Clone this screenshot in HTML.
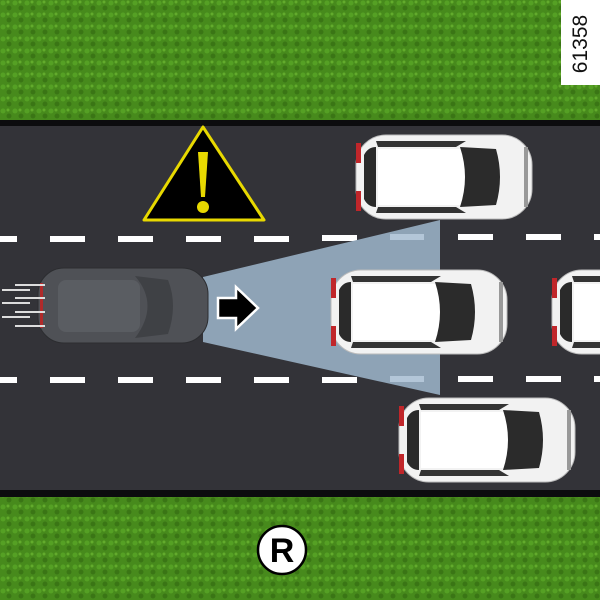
<!DOCTYPE html>
<html><head><style>
html,body{margin:0;padding:0;width:600px;height:600px;overflow:hidden;background:#4a8a1e}
</style></head><body>
<svg width="600" height="600" viewBox="0 0 600 600" xmlns="http://www.w3.org/2000/svg" font-family="Liberation Sans, sans-serif">
<defs>
<pattern id="g" width="12" height="12" patternUnits="userSpaceOnUse">
<rect width="12" height="12" fill="#478a1c"/>
<circle cx="3" cy="3" r="2.5" fill="#55a024"/>
<circle cx="9" cy="8" r="2.5" fill="#3a7515"/>
<circle cx="8" cy="2" r="1.5" fill="#62ab2c"/>
</pattern>
<g id="wcar">
<rect x="0" y="0" width="176" height="84" rx="30" fill="#f2f2f2" stroke="#bbb"/>
<rect x="0" y="8" width="5" height="20" fill="#c0262a"/>
<rect x="0" y="56" width="5" height="20" fill="#c0262a"/>
<path d="M8 20 Q12 12 20 12 L20 72 Q12 72 8 64 Z" fill="#2a2a2a"/>
<rect x="22" y="14" width="100" height="56" fill="#fff"/>
<path d="M104 12 L140 14 Q148 42 140 70 L104 72 Q114 42 104 12Z" fill="#2b2b2b"/>
<path d="M20 6 L110 6 L100 12 L22 12Z" fill="#333"/>
<path d="M20 78 L110 78 L100 72 L22 72Z" fill="#333"/>
<rect x="168" y="12" width="4" height="60" fill="#999"/>
</g>
</defs>
<rect width="600" height="600" fill="url(#g)"/>
<rect x="0" y="120" width="600" height="377" fill="#0c0c0e"/>
<rect x="0" y="126" width="600" height="364" fill="#333338"/>
<g fill="#fff">
<rect x="0" y="236" width="17" height="6"/><rect x="50" y="236" width="35" height="6"/><rect x="118" y="236" width="35" height="6"/><rect x="186" y="236" width="35" height="6"/><rect x="254" y="236" width="35" height="6"/><rect x="322" y="235" width="35" height="6"/><rect x="458" y="234" width="35" height="6"/><rect x="526" y="234" width="35" height="6"/><rect x="594" y="234" width="6" height="6"/>
<rect x="0" y="377" width="17" height="6"/><rect x="50" y="377" width="35" height="6"/><rect x="118" y="377" width="35" height="6"/><rect x="186" y="377" width="35" height="6"/><rect x="254" y="377" width="35" height="6"/><rect x="322" y="377" width="35" height="6"/><rect x="458" y="376" width="35" height="6"/><rect x="526" y="376" width="35" height="6"/><rect x="594" y="376" width="6" height="6"/>
</g>
<polygon points="203,277 440,220 440,395 203,342" fill="#8ea3b6"/>
<rect x="390" y="234" width="34" height="6" fill="#b3c6d8"/>
<rect x="390" y="376" width="34" height="6" fill="#b3c6d8"/>
<use href="#wcar" x="356" y="135"/>
<use href="#wcar" x="331" y="270"/>
<use href="#wcar" x="552" y="270"/>
<use href="#wcar" x="399" y="398"/>
<rect x="38" y="268" width="170" height="75" rx="26" fill="#4f5156" stroke="#2c2d30"/>
<rect x="58" y="280" width="82" height="52" rx="8" fill="#5a5d62"/>
<path d="M135 276 Q160 305 135 338 L168 334 Q178 305 168 280Z" fill="#3f4145"/>
<rect x="40" y="283" width="3" height="45" fill="#b02a2a"/>
<g stroke="#ddd" stroke-width="2" fill="none">
<line x1="2" y1="290" x2="30" y2="290"/><line x1="15" y1="285" x2="45" y2="285"/><line x1="2" y1="303" x2="30" y2="303"/><line x1="15" y1="298" x2="45" y2="298"/><line x1="2" y1="317" x2="30" y2="317"/><line x1="15" y1="312" x2="45" y2="312"/><line x1="15" y1="326" x2="45" y2="326"/>
</g>
<polygon points="218,298 236,298 236,287 258,308 236,329 236,318 218,318" fill="#000" stroke="#fff" stroke-width="2.5"/>
<path d="M203 127 L264 220 L144 220 Z" fill="#000" stroke="#e8d900" stroke-width="3" stroke-linejoin="round"/>
<path d="M198 152 L208 152 L205 197 L201 197Z" fill="#e8d900"/>
<circle cx="203" cy="207" r="6" fill="#e8d900"/>
<circle cx="282" cy="550" r="24" fill="#fff" stroke="#000" stroke-width="2.5"/>
<text x="282" y="562" font-size="34" font-weight="bold" text-anchor="middle">R</text>
<rect x="561" y="0" width="39" height="85" fill="#fff"/>
<text transform="translate(587,44) rotate(-90)" font-size="21" text-anchor="middle" fill="#111">61358</text>
</svg>
</body></html>
